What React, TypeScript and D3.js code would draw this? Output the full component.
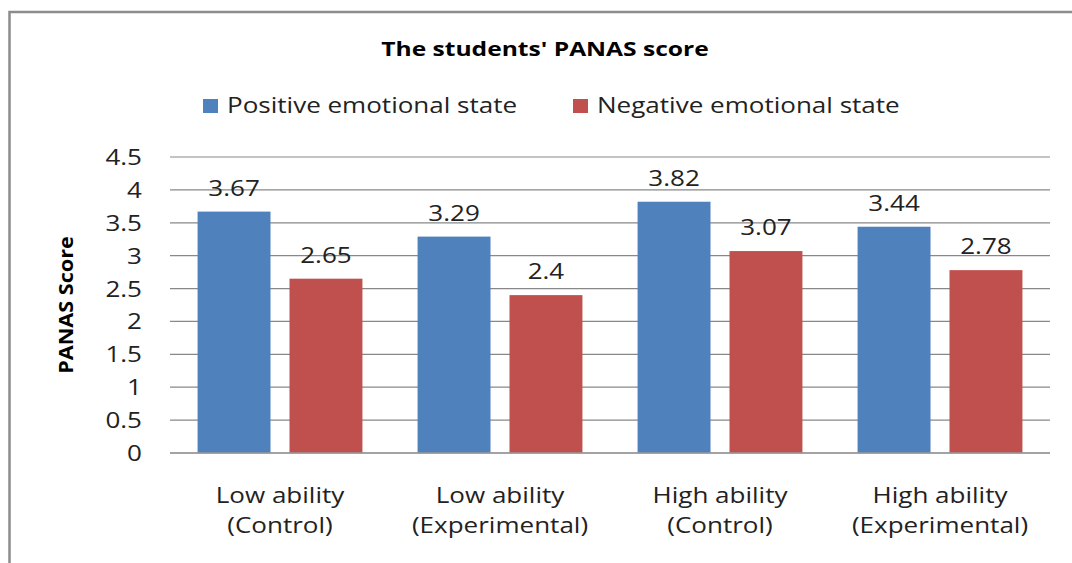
import React from 'react';
import * as d3 from 'd3';

const categories = [
  ['Low ability', '(Control)'],
  ['Low ability', '(Experimental)'],
  ['High ability', '(Control)'],
  ['High ability', '(Experimental)'],
];
const seriesNames = ['Positive emotional state', 'Negative emotional state'];
const seriesColors = ['#4F81BD', '#C0504D'];
const positive = [3.67, 3.29, 3.82, 3.44];
const negative = [2.65, 2.4, 3.07, 2.78];
const yTicks = [0, 0.5, 1, 1.5, 2, 2.5, 3, 3.5, 4, 4.5];

const W = 1072;
const H = 563;
const FONT = "'Open Sans', sans-serif";
const SX = 1.24; // reference text is stretched horizontally

export default function App() {
  const margin = { left: 170, right: 22, top: 157, bottom: 110 };
  const x0 = d3.scaleBand<number>()
    .domain(d3.range(categories.length))
    .range([margin.left, W - margin.right]);
  const x1 = d3.scaleBand<number>()
    .domain([0, 1])
    .range([0, x0.bandwidth()])
    .paddingInner(0.2065)
    .paddingOuter(0.3);
  const y = d3.scaleLinear().domain([0, 4.5]).range([H - margin.bottom, margin.top]);
  const values = [positive, negative];

  const stretched = (x: number, yy: number) => `translate(${x},${yy}) scale(${SX},1)`;

  return (
    <svg width={W} height={H} style={{ position: 'absolute', left: 0, top: 0, display: 'block' }} fontFamily={FONT}>
      <rect x={0} y={0} width={W} height={H} fill="#fff" />
      <rect x={9.5} y={12} width={W + 20} height={H + 20} fill="none" stroke="#8c8c8c" strokeWidth={2.5} />

      <text transform={`translate(545,56) scale(1.23,1)`} textAnchor="middle" fontSize={20} fontWeight="bold" fill="#000">
        The students' PANAS score
      </text>

      {seriesNames.map((name, i) => {
        const lx = i === 0 ? 203 : 573;
        return (
          <g key={name}>
            <rect x={lx} y={99} width={15} height={14} fill={seriesColors[i]} />
            <text transform={stretched(lx + 24, 113)} fontSize={21} fill="#222">{name}</text>
          </g>
        );
      })}

      {yTicks.map((t) => (
        <g key={t}>
          <line x1={margin.left} x2={W - margin.right} y1={y(t)} y2={y(t)} stroke="#888" strokeWidth={1.2} />
          <text transform={stretched(142, y(t) + 8)} textAnchor="end" fontSize={21} fill="#222">{t}</text>
        </g>
      ))}

      <text transform={`translate(73,${(y(0) + y(4.5)) / 2}) rotate(-90) scale(1.14,1)`} textAnchor="middle" fontSize={19} fontWeight="bold" fill="#000">
        PANAS Score
      </text>

      {categories.map((cat, ci) => (
        <g key={ci}>
          {values.map((vals, si) => {
            const bx = x0(ci)! + x1(si)!;
            const v = vals[ci];
            return (
              <g key={si}>
                <rect x={bx} y={y(v)} width={x1.bandwidth()} height={y(0) - y(v)} fill={seriesColors[si]} />
                <text transform={stretched(bx + x1.bandwidth() / 2, y(v) - 16)} textAnchor="middle" fontSize={21} fill="#222">
                  {v}
                </text>
              </g>
            );
          })}
          {cat.map((line, li) => (
            <text key={li} transform={stretched(x0(ci)! + x0.bandwidth() / 2, 503 + li * 30)} textAnchor="middle" fontSize={21} fill="#222">
              {line}
            </text>
          ))}
        </g>
      ))}

      <line x1={margin.left} x2={W - margin.right} y1={y(0)} y2={y(0)} stroke="#999" strokeWidth={1.5} />
    </svg>
  );
}
